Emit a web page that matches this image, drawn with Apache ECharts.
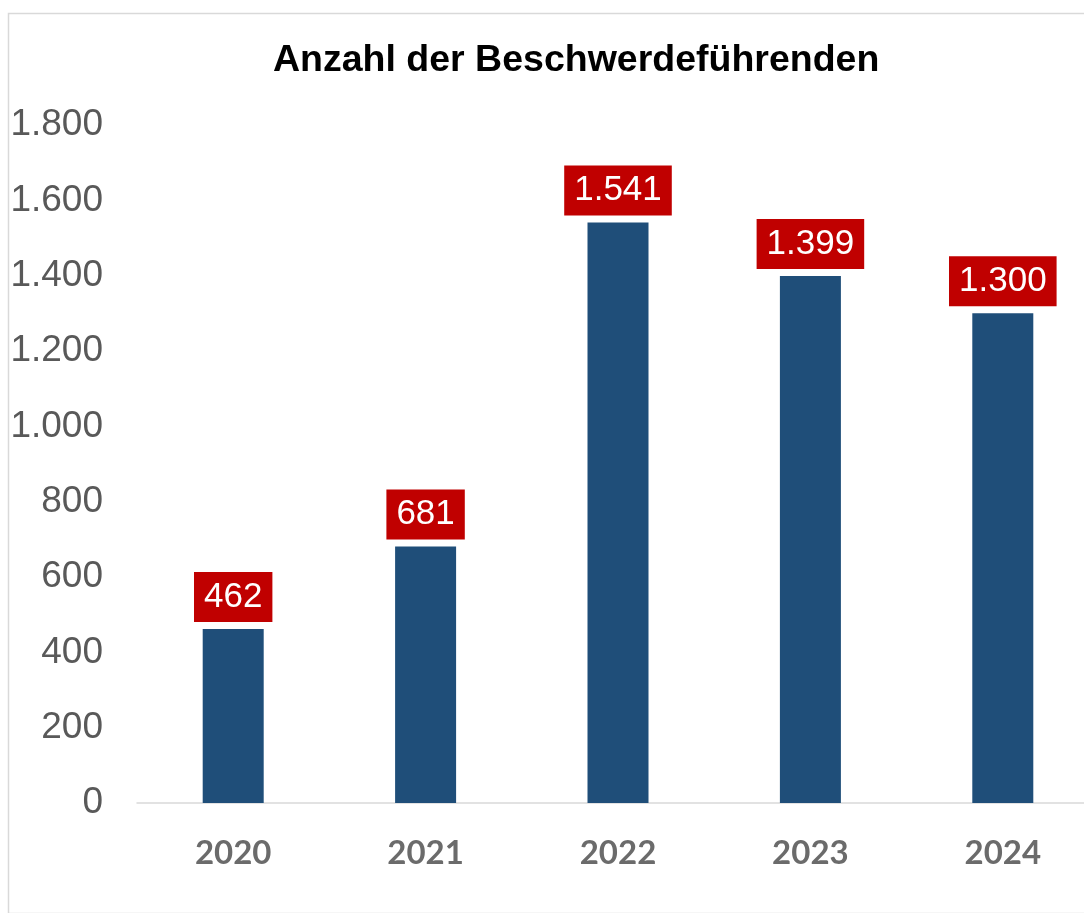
<!DOCTYPE html>
<html>
<head>
<meta charset="utf-8">
<script src="https://cdn.jsdelivr.net/npm/echarts@6/dist/echarts.min.js"></script>
<style>
  html, body { margin: 0; padding: 0; background: #fff; }
  #chart { width: 1084px; height: 913px; }
</style>
</head>
<body>
<div id="chart"></div>
<script>
// Daten
const years = ["2020", "2021", "2022", "2023", "2024"];
const complainants = [462, 681, 1541, 1399, 1300];

// deutsche Tausenderpunkte
const fmt = (v) => String(v).replace(/\B(?=(\d{3})+(?!\d))/g, ".");

const chart = echarts.init(document.getElementById("chart"));

chart.setOption({
  backgroundColor: "#fff",
  animation: false,
  graphic: [
    {
      type: "rect",
      left: 6,
      top: 11,
      shape: { width: 1100, height: 900 },
      style: { fill: "none", stroke: "#d9d9d9", lineWidth: 1.5 },
      silent: true,
    },
  ],
  title: {
    text: "Anzahl der Beschwerdeführenden",
    left: 268,
    top: 37,
    textStyle: {
      fontFamily: "Liberation Sans, Arial",
      fontWeight: "bold",
      fontSize: 37.5,
      color: "#000",
    },
  },
  grid: {
    left: 137,
    top: 125,
    bottom: 110,
    width: 962,
    outerBoundsMode: "none",
  },
  xAxis: {
    type: "category",
    data: years,
    axisTick: { show: false },
    axisLine: { lineStyle: { color: "#d9d9d9", width: 1.5 } },
    axisLabel: {
      margin: 34,
      fontFamily: "Lato",
      fontWeight: "bold",
      fontSize: 33,
      color: "#6b6b6b",
    },
  },
  yAxis: {
    type: "value",
    min: 0,
    max: 1800,
    interval: 200,
    splitLine: { show: false },
    axisLine: { show: false },
    axisTick: { show: false },
    axisLabel: {
      margin: 34,
      fontFamily: "Liberation Sans, Arial",
      fontSize: 37,
      color: "#595959",
      formatter: fmt,
    },
  },
  series: [
    {
      type: "bar",
      data: complainants,
      barWidth: 61,
      itemStyle: { color: "#1f4e79" },
      label: {
        show: true,
        position: "top",
        distance: 7,
        formatter: (p) => fmt(p.value),
        fontFamily: "Liberation Sans, Arial",
        fontSize: 35,
        lineHeight: 38,
        color: "#fff",
        backgroundColor: "#c00000",
        padding: [6, 10, 6, 10],
      },
    },
  ],
});
</script>
</body>
</html>
